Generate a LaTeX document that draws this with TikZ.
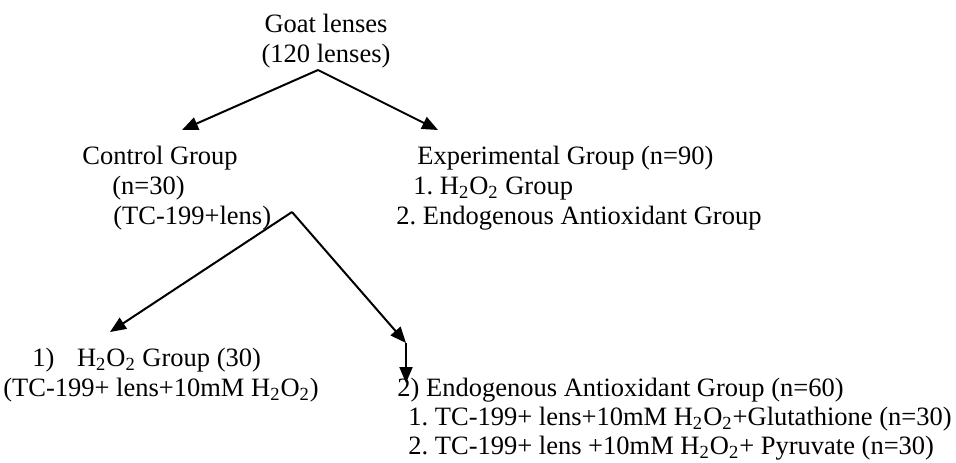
\documentclass[tikz,border=0pt]{standalone}
\usepackage{fontspec}
\setmainfont{Liberation Serif}
\usetikzlibrary{arrows.meta}
\newcommand{\hoo}{H\textsubscript{2}O\textsubscript{2}}
\frenchspacing
\begin{document}
\begin{tikzpicture}[x=0.5pt,y=-0.5pt,
  txt/.style={inner sep=0pt,anchor=base west,font=\fontsize{13.25}{15.2}\selectfont},
  arr/.style={line width=1pt,-{Triangle[length=8pt,width=6.5pt]}}]
\useasboundingbox (0,0) rectangle (956,462);
% top
\node[txt,anchor=base] (goat1) at (326,32) {Goat lenses};
\node[txt,anchor=base] (goat2) at (326,62) {(120 lenses)};
\coordinate (apexA) at (318,70);
\coordinate (tipL) at (182,130);
\coordinate (tipR) at (438,130);
\draw[arr] (apexA) -- (tipL);
\draw[arr] (apexA) -- (tipR);
% control group
\node[txt] (ctrl1) at (82,164) {Control Group};
\node[txt] (ctrl2) at (112,194) {(n=30)};
\node[txt] (ctrl3) at (113,224) {(TC-199+lens)};
% experimental group
\node[txt] (exp1) at (417,164) {Experimental Group (n=90)};
\node[txt] (exp2) at (413,194) {1. \hoo\ Group};
\node[txt] (exp3) at (396,224) {2. Endogenous Antioxidant Group};
% second level arrows
\coordinate (apexB) at (292,212);
\coordinate (tip2L) at (110,332);
\coordinate (bend) at (406,343);
\coordinate (tip2R) at (406,383);
\draw[arr] (apexB) -- (tip2L);
\draw[arr] (apexB) -- (bend);
\draw[arr] (bend) -- (tip2R);
% bottom left
\node[txt] (h1) at (32,366) {1)\hspace{0.85em}\hoo\ Group (30)};
\node[txt] (h2) at (3,396) {(TC-199+ lens+10mM \hoo)};
% bottom right
\node[txt] (e1) at (397,396) {2) Endogenous Antioxidant Group (n=60)};
\node[txt] (e2) at (408,425) {1. TC-199+ lens+10mM \hoo+Glutathione (n=30)};
\node[txt] (e3) at (408,454) {2. TC-199+ lens +10mM \hoo+ Pyruvate (n=30)};
\end{tikzpicture}
\end{document}
